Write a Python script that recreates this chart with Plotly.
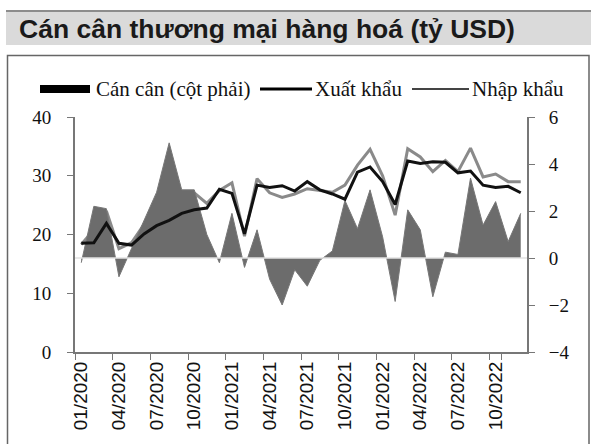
import plotly.graph_objects as go

# month categories 01/2020 .. 12/2022
months = [f"{m:02d}/{y}" for y in (2020, 2021, 2022) for m in range(1, 13)]
tick_months = months[::3]

# trade balance, right axis (bn USD)
can_can = [-0.2, 2.2, 2.1, -0.8, 0.4, 1.6, 2.8, 4.9, 2.9, 2.9, 1.0, -0.2,
           1.9, -0.4, 1.2, -0.9, -2.0, -0.5, -1.2, -0.1, 0.3, 2.45, 1.25, 2.9,
           0.9, -1.85, 2.05, 1.2, -1.65, 0.25, 0.15, 3.4, 1.4, 2.4, 0.7, 1.9]

# exports (black line), left axis
xuat_khau = [18.5, 18.6, 21.9, 18.5, 18.2, 20.1, 21.5, 22.4, 23.6, 24.2, 24.5, 27.7,
             27.0, 20.1, 28.4, 28.0, 28.3, 27.4, 29.0, 27.6, 26.9, 26.0, 30.6, 31.5,
             29.0, 25.1, 32.5, 32.1, 32.4, 32.3, 30.5, 30.8, 28.4, 28.0, 28.2, 27.1]

# imports (grey line), left axis
nhap_khau = [18.3, 20.8, 24.0, 17.6, 18.6, 21.7, 24.3, 27.3, 26.5, 27.1, 25.3, 27.5,
             28.8, 19.7, 29.5, 27.1, 26.3, 26.9, 27.8, 27.5, 27.2, 28.4, 31.8, 34.5,
             30.0, 23.3, 34.6, 33.2, 30.7, 32.6, 30.7, 34.7, 29.8, 30.3, 29.0, 29.0]

title_text = "Cán cân thương mại hàng hoá (tỷ USD)"
legend_labels = ["Cán cân (cột phải)", "Xuất khẩu", "Nhập khẩu"]

W, H = 591, 444
L, R, T, B = 75, 64, 117, 92
PW, PH = W - L - R, H - T - B


def px_x(px):
    return (px - L) / PW


def px_y(py):
    return (H - B - py) / PH


SERIF = "Liberation Serif"
SANS = "Liberation Sans"

fig = go.Figure()
fig.add_trace(go.Scatter(x=months, y=nhap_khau, mode="lines", name=legend_labels[2],
                         line=dict(color="#8a8a8a", width=3), yaxis="y"))
fig.add_trace(go.Scatter(x=months, y=can_can, mode="lines", name=legend_labels[0],
                         fill="tozeroy", fillcolor="#6c6c6c",
                         line=dict(color="#777777", width=1), yaxis="y2"))
fig.add_trace(go.Scatter(x=months, y=xuat_khau, mode="lines", name=legend_labels[1],
                         line=dict(color="#111111", width=3), yaxis="y3"))

axis_common = dict(showgrid=False, zeroline=False, showline=True, linecolor="#777777",
                   linewidth=2, ticks="outside", ticklen=6, tickcolor="#777777",
                   tickfont=dict(family=SERIF, size=19, color="#111111"))

fig.update_layout(
    width=W, height=H,
    margin=dict(l=L, r=R, t=T, b=B),
    paper_bgcolor="white", plot_bgcolor="white",
    showlegend=False,
    xaxis=dict(type="category", categoryorder="array", categoryarray=months,
               range=[-0.5, len(months) - 0.5], tickson="boundaries",
               tickvals=tick_months, ticktext=tick_months, tickangle=-90,
               showgrid=False, zeroline=False, showline=True, linecolor="#777777",
               linewidth=2, ticks="outside", ticklen=6, tickcolor="#777777",
               tickfont=dict(family=SANS, size=19, color="#111111"), automargin=False),
    yaxis=dict(range=[0, 40], dtick=10, ticklabelstandoff=12, automargin=False, **axis_common),
    yaxis2=dict(range=[-4, 6], dtick=2, side="right", overlaying="y", anchor="x",
                ticklabelstandoff=10, automargin=False, **axis_common),
    yaxis3=dict(range=[0, 40], overlaying="y", visible=False),
)

shapes = [
    # title band
    dict(type="rect", xref="paper", yref="paper", x0=px_x(6), x1=px_x(591),
         y0=px_y(45), y1=px_y(12), fillcolor="#dadada", line=dict(width=0), layer="below"),
    dict(type="line", xref="paper", yref="paper", x0=px_x(6), x1=px_x(591),
         y0=px_y(11), y1=px_y(11), line=dict(color="#8c8c8c", width=2)),
    # chart frame
    dict(type="rect", xref="paper", yref="paper", x0=px_x(7.5), x1=px_x(589),
         y0=px_y(447), y1=px_y(55.5), line=dict(color="#666666", width=1.5), layer="below"),
    # right-axis zero line
    dict(type="line", xref="paper", yref="y2", x0=0, x1=1, y0=0, y1=0,
         line=dict(color="#e2e2e2", width=1.5), layer="above"),
    # legend symbols
    dict(type="rect", xref="paper", yref="paper", x0=px_x(40), x1=px_x(90),
         y0=px_y(93), y1=px_y(85), fillcolor="#000000", line=dict(width=0)),
    dict(type="line", xref="paper", yref="paper", x0=px_x(260), x1=px_x(312),
         y0=px_y(89), y1=px_y(89), line=dict(color="#000000", width=3)),
    dict(type="line", xref="paper", yref="paper", x0=px_x(412), x1=px_x(469),
         y0=px_y(89), y1=px_y(89), line=dict(color="#444444", width=2)),
]

annotations = [
    dict(text=title_text, xref="paper", yref="paper", x=px_x(17), y=px_y(29),
         xanchor="left", yanchor="middle", showarrow=False,
         font=dict(family=SANS, size=26.5, color="#1a1a1a", weight="bold")),
]
for label, lx in zip(legend_labels, [94, 313, 470]):
    annotations.append(dict(text=label, xref="paper", yref="paper", x=px_x(lx), y=px_y(89),
                            xanchor="left", yanchor="middle", showarrow=False,
                            font=dict(family=SERIF, size=21, color="#111111")))

fig.update_layout(shapes=shapes, annotations=annotations)

# drop the browser's default body margin so the figure sits at the page origin
fig.write_html("out.html", config={"displayModeBar": False},
               post_script="document.body.style.margin='0';")
